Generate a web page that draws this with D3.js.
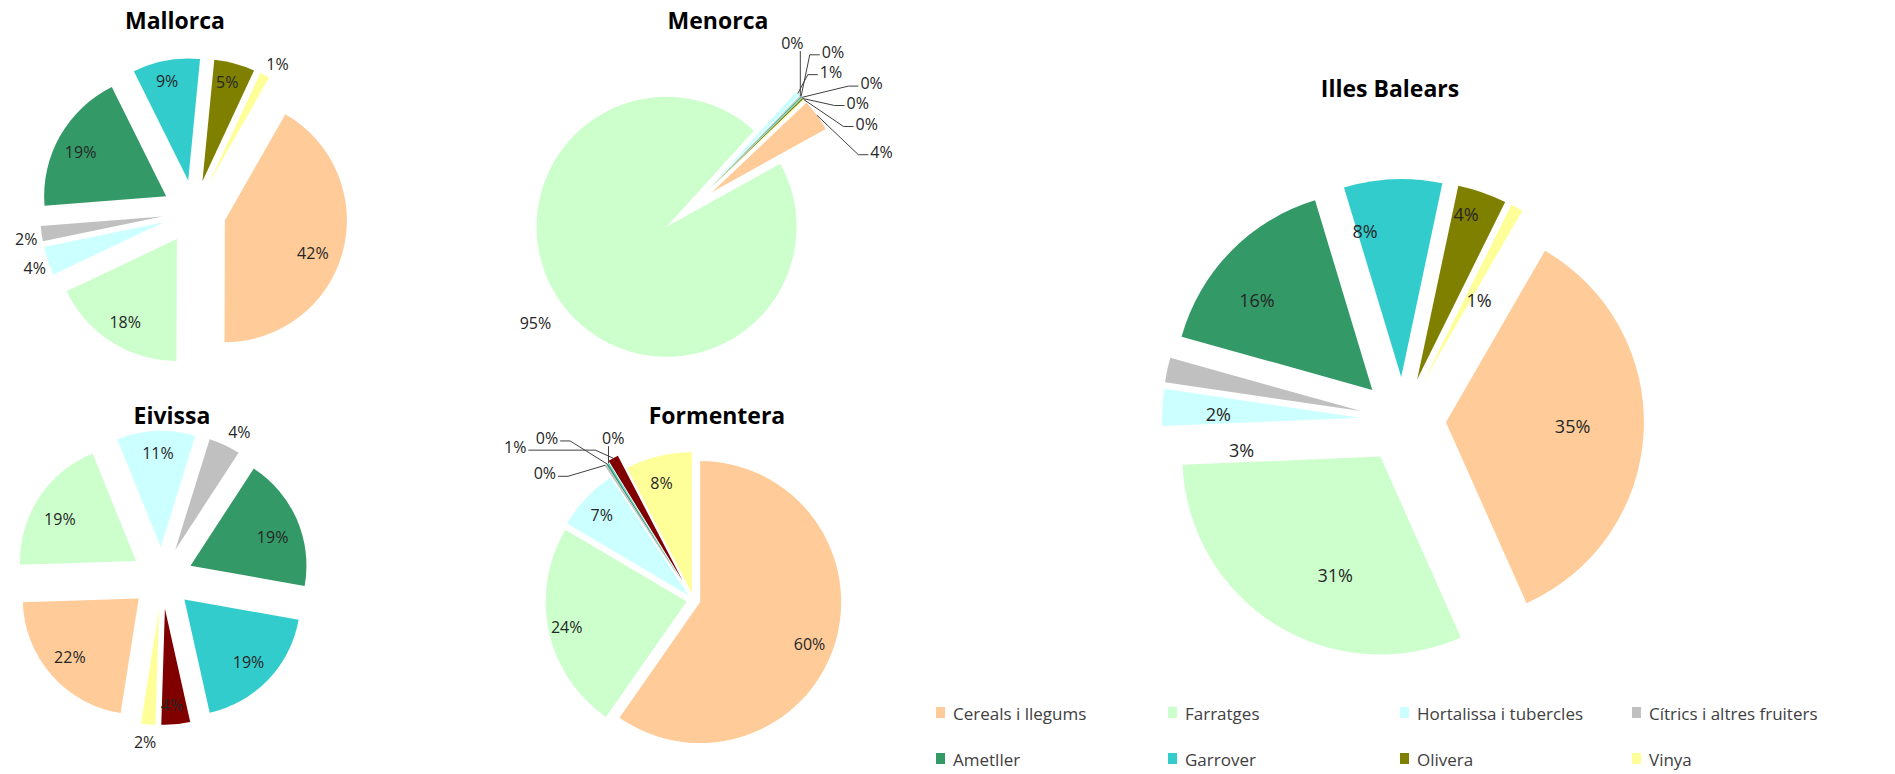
<!doctype html>
<html lang="ca">
<head>
<meta charset="utf-8">
<title>Superfície agrària per conreu</title>
<style>
  body { margin: 0; background: #fff; }
  svg { display: block; font-family: "Open Sans", "Noto Sans", sans-serif; }
</style>
</head>
<body>
<div id="chart"></div>
<script src="https://cdn.jsdelivr.net/npm/d3@7"></script>
<script>
// categories and colours (legend order)
var categories = ["Cereals i llegums", "Farratges", "Hortalissa i tubercles", "Cítrics i altres fruiters",
                  "Ametller", "Garrover", "Olivera", "Vinya"];
var colors = ["#FFCC99", "#CCFFCC", "#CCFFFF", "#C0C0C0", "#339966", "#33CCCC", "#808000", "#FFFF99"];

// share of each crop (%), per island
var mallorca     = [41.8, 17.9, 3.8, 2.0, 18.9, 8.9, 5.4, 1.3];
var menorca      = [4.0, 94.8, 0.6, 0.1, 0.1, 0.1, 0.2, 0.1];
var eivissa      = [22.0, 19.4, 10.9, 4.4, 18.6, 18.7, 4.0, 2.0];
var formentera   = [59.7, 23.8, 7.2, 0.2, 0.2, 0.1, 1.2, 7.6];
var illesBalears = [35, 31, 3, 2, 16, 8, 4, 1];

// where each pie sits; labels are [angle, distance as share of radius, leader, elbow]
var charts = [
  {title: "Mallorca", values: mallorca, cx: 194, cy: 212, r: 122, explode: 32, start: 29.7,
   tx: 175, ty: 29, fs: 16, olive: "#808000",
   labels: [[110.6,.77],[212,.80],[250.6,1.12],[260.8,1.13],[297.4,.79],[348,.83],[14,.84],[29.9,1.13]]},
  {title: "Menorca", values: menorca, cx: 689, cy: 209, r: 130, explode: 28.6, start: 46.55,
   tx: 718, ty: 29, fs: 16, olive: "#808000",
   labels: [[76.6,1.34,"r"],[233.8,1.25],[46.4,1.30,"r"],[29.8,1.29,"v"],[42.1,1.42,"r"],
            [56.9,1.49,"r"],[59.7,1.32,"r"],[67.3,1.31,"r"]]},
  {title: "Eivissa", values: eivissa, cx: 162, cy: 578, r: 116, explode: 31, start: 189,
   tx: 172, ty: 424, fs: 16, olive: "#800000",
   labels: [[229.6,.78],[298.9,.75],[358.3,.81],[28.5,1.16],[70.8,.75],[134.1,.77],[175.8,.83],[186,1.15]]},
  {title: "Formentera", values: formentera, cx: 693.5, cy: 600, r: 141, explode: 7, start: 0,
   tx: 717, ty: 424, fs: 16, olive: "#800000",
   // the small slices are pulled further out than the rest
   explodeEach: [7, 7, 7, 20, 20, 20, 22, 7],
   labels: [[110.8,.83],[257.9,.87],[312.9,.84],[308.6,1.25,"l"],[316.9,1.41,"l"],
            [334.3,1.14,"v"],[308.6,1.52,"l",67],[344.6,.81]]},
  {title: "Illes Balears", values: illesBalears, cx: 1403, cy: 420, r: 198, explode: 43, start: 30,
   tx: 1390, ty: 97, fs: 18, olive: "#808000",
   labels: [[91.8,.64],[200.9,.64],[254.8,.62],[268.8,.72],[308.1,.74],[346.1,.76],[16.5,.87],[34.3,.50]]}
];

var width = 1895, height = 774;
var rad = Math.PI / 180;
function dir(a) { return [Math.sin(a * rad), -Math.cos(a * rad)]; }

var svg = d3.select("#chart").append("svg")
  .attr("width", width)
  .attr("height", height);

svg.append("rect").attr("width", width).attr("height", height).attr("fill", "#fff");

charts.forEach(function (c) {
  var pie = d3.pie().sort(null)
    .startAngle(c.start * rad)
    .endAngle(c.start * rad + 2 * Math.PI);
  var arc = d3.arc().innerRadius(0).outerRadius(c.r);
  var slices = pie(c.values);

  var g = svg.append("g").attr("transform", "translate(" + c.cx + "," + c.cy + ")");

  // pull every slice out along its middle angle
  slices.forEach(function (s, i) {
    var mid = (s.startAngle + s.endAngle) / 2 / rad;
    var d = dir(mid);
    var ex = c.explodeEach ? c.explodeEach[i] : c.explode;
    s.tip = [d[0] * ex, d[1] * ex];
    s.outer = [s.tip[0] + d[0] * c.r, s.tip[1] + d[1] * c.r];
    s.color = i == 6 ? c.olive : colors[i];
  });

  g.selectAll("path.slice")
    .data(slices)
    .enter()
    .append("path")
      .attr("class", "slice")
      .attr("transform", function (s) { return "translate(" + s.tip[0] + "," + s.tip[1] + ")"; })
      .attr("d", arc)
      .attr("fill", function (s) { return s.color; });

  // data labels
  slices.forEach(function (s, i) {
    var L = c.labels[i];
    var d = dir(L[0]);
    var x = s.tip[0] + d[0] * L[1] * c.r;
    var y = s.tip[1] + d[1] * L[1] * c.r;
    var t = g.append("text")
      .attr("x", x)
      .attr("y", y)
      .attr("text-anchor", "middle")
      .attr("dominant-baseline", "central")
      .attr("font-size", c.fs + "px")
      .attr("fill", "#262626")
      .text(Math.round(c.values[i]) + "%");

    if (L[2]) {
      var w = t.node().getComputedTextLength();
      var pts;
      if (L[2] == "v") {
        pts = [s.outer, [s.outer[0], y + 8]];
      } else if (L[2] == "r") {
        var ax = x - w / 2 - 2;
        pts = [s.outer, [ax - (L[3] || 10), y + 3], [ax, y + 3]];
      } else {
        var bx = x + w / 2 + 2;
        pts = [s.outer, [bx + (L[3] || 10), y + 3], [bx, y + 3]];
      }
      g.append("path")
        .attr("d", d3.line()(pts))
        .attr("fill", "none")
        .attr("stroke", "#404040")
        .attr("stroke-width", 1);
    }
  });

  svg.append("text")
    .attr("x", c.tx)
    .attr("y", c.ty)
    .attr("text-anchor", "middle")
    .attr("font-size", "23px")
    .attr("font-weight", "bold")
    .attr("fill", "#000")
    .text(c.title);
});

// legend: two rows of four
var col = d3.scalePoint().domain([0, 1, 2, 3]).range([936, 1632]);
var row = d3.scalePoint().domain([0, 1]).range([713, 759]);

var legend = svg.selectAll("g.legend")
  .data(categories)
  .enter()
  .append("g")
    .attr("class", "legend")
    .attr("transform", function (d, i) { return "translate(" + col(i % 4) + "," + row(Math.floor(i / 4)) + ")"; });

legend.append("rect")
  .attr("x", 0)
  .attr("y", -6)
  .attr("width", 9)
  .attr("height", 11)
  .attr("fill", function (d, i) { return colors[i]; });

legend.append("text")
  .attr("x", 17)
  .attr("y", 0)
  .attr("dominant-baseline", "central")
  .attr("font-size", "17px")
  .attr("fill", "#404040")
  .text(function (d) { return d; });
</script>
</body>
</html>
